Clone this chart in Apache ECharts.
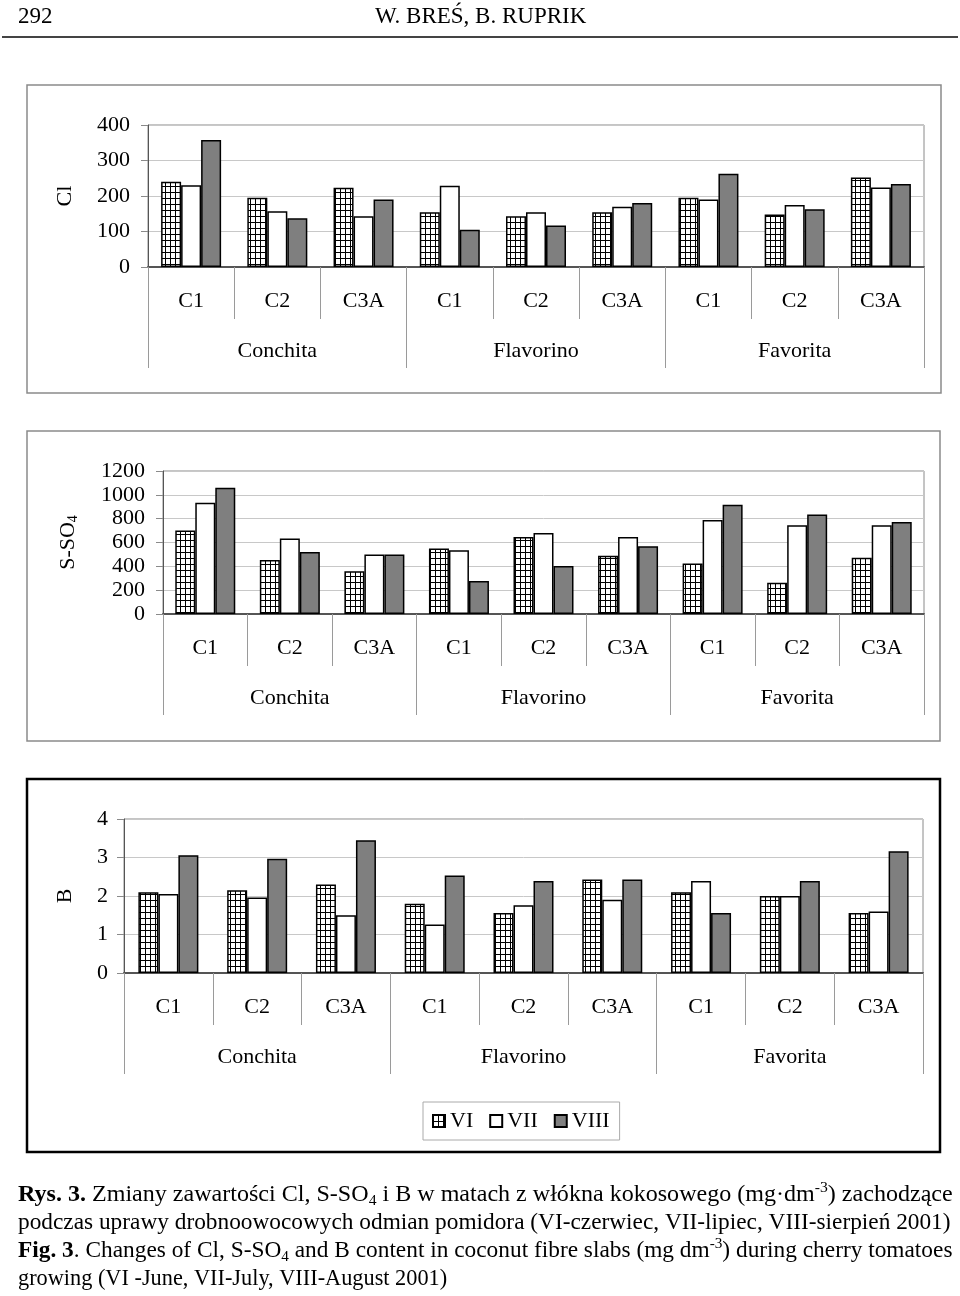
<!DOCTYPE html>
<html><head><meta charset="utf-8">
<script src="https://cdn.jsdelivr.net/npm/echarts@6/dist/echarts.min.js"></script>
<style>html,body{margin:0;padding:0;background:#fff}#c{width:960px;height:1296px}</style>
</head><body><div id="c"></div>
<script>
const categories = ['C1','C2','C3A','C1','C2','C3A','C1','C2','C3A'];
const groups = ['Conchita','Flavorino','Favorita'];
const seriesNames = ['VI','VII','VIII'];
const clTicks = [0,100,200,300,400];
const so4Ticks = [0,200,400,600,800,1000,1200];
const bTicks = [0,1,2,3,4];

const clVI   = [240,195,223,154,143,154,195,148,252];
const clVII  = [230,157,143,229,154,170,190,175,224];
const clVIII = [358,137,190,105,117,180,263,163,234];

const so4VI   = [700,454,359,550,647,488,423,263,471];
const so4VII  = [933,633,500,535,680,647,789,744,744];
const so4VIII = [1060,520,500,277,403,568,917,835,772];

const bVI   = [2.10,2.15,2.30,1.80,1.56,2.43,2.10,2.00,1.56];
const bVII  = [2.05,1.96,1.50,1.26,1.76,1.90,2.39,2.00,1.60];
const bVIII = [3.06,2.97,3.45,2.53,2.39,2.43,1.56,2.39,3.16];

const FONT = '"Liberation Serif","Times New Roman",serif';

function gridPattern(){
  const c = document.createElement('canvas');
  c.width = 5; c.height = 6;
  const g = c.getContext('2d');
  g.fillStyle = '#fff'; g.fillRect(0,0,5,6);
  g.fillStyle = '#000'; g.fillRect(0,0,5,1); g.fillRect(0,0,1,6);
  return c;
}
const pat = {image: gridPattern(), repeat: 'repeat'};
const fills = [pat, '#ffffff', '#7f7f7f'];

const panels = [
  {top:125, height:142, left:148, right:36, ticks:clTicks, name:'{n|Cl}', gap:71, lm:18, data:[clVI,clVII,clVIII]},
  {top:471, height:143, left:163, right:36, ticks:so4Ticks, name:'{n|S-SO}{s|4}', gap:83, lm:18, data:[so4VI,so4VII,so4VIII]},
  {top:819, height:154, left:124, right:37, ticks:bTicks, name:'{n|B}', gap:47, lm:16, data:[bVI,bVII,bVIII]}
];

const grid = [], xAxis = [], yAxis = [], series = [];
panels.forEach((p, i) => {
  grid.push({left:p.left, right:p.right, top:p.top, height:p.height, show:true, borderColor:'#8a8a8a', borderWidth:1});
  xAxis.push({gridIndex:i, type:'category', data:categories, position:'bottom',
    axisLine:{lineStyle:{color:'#555', width:2}},
    axisTick:{show:true, interval:0, length:52, lineStyle:{color:'#9a9a9a', width:1}},
    axisLabel:{interval:0, margin:23, fontSize:22, color:'#000', fontFamily:FONT}});
  xAxis.push({gridIndex:i, type:'category', data:groups, position:'bottom',
    axisLine:{show:false},
    axisTick:{show:true, interval:0, length:101, lineStyle:{color:'#9a9a9a', width:1}},
    axisLabel:{interval:0, margin:73, fontSize:22, color:'#000', fontFamily:FONT}});
  const t = p.ticks;
  yAxis.push({gridIndex:i, type:'value', min:t[0], max:t[t.length-1], interval:t[1]-t[0],
    name:p.name, nameLocation:'middle', nameGap:p.gap,
    nameTextStyle:{rich:{n:{fontSize:22, fontFamily:FONT, color:'#000', lineHeight:24}, s:{fontSize:14, fontFamily:FONT, color:'#000', lineHeight:14, verticalAlign:'bottom'}}},
    axisLine:{show:true, lineStyle:{color:'#555', width:1}},
    axisTick:{show:true, length:7, lineStyle:{color:'#8a8a8a'}},
    axisLabel:{margin:p.lm, fontSize:22, color:'#000', fontFamily:FONT, formatter:(v) => String(v)},
    splitLine:{show:true, lineStyle:{color:'#c8c8c8', width:1}}});
  seriesNames.forEach((nm, k) => {
    series.push({name:nm, type:'bar', xAxisIndex:i*2, yAxisIndex:i, data:p.data[k],
      barWidth:20, barGap:'0%',
      itemStyle:{color:fills[k], borderColor:'#000', borderWidth:1.5},
      emphasis:{disabled:true}, animation:false});
  });
});

const capRich = {
  b:{fontWeight:'bold', fontSize:23, fontFamily:FONT, lineHeight:28, color:'#000'},
  n:{fontSize:23, fontFamily:FONT, lineHeight:28, color:'#000'},
  sub:{fontSize:15, fontFamily:FONT, lineHeight:15, verticalAlign:'bottom', color:'#000'},
  sup:{fontSize:15, fontFamily:FONT, lineHeight:15, verticalAlign:'top', color:'#000'}
};
const capLines = [
  '{b|Rys. 3.}{n| Zmiany zawartości Cl, S-SO}{sub|4}{n| i B w matach z włókna kokosowego (mg·dm}{sup|-3}{n|) zachodzące}',
  '{n|podczas uprawy drobnoowocowych odmian pomidora (VI-czerwiec, VII-lipiec, VIII-sierpień 2001)}',
  '{b|Fig. 3}{n|. Changes of Cl, S-SO}{sub|4}{n| and B content in coconut fibre slabs (mg dm}{sup|-3}{n|) during cherry tomatoes}',
  '{n|growing (VI -June, VII-July, VIII-August 2001)}'
];
const capScale = [1.046, 1.014, 1.015, 0.97];
const graphic = [
  {type:'text', x:18, y:5, style:{text:'292', font:'23px '+FONT, fill:'#000'}},
  {type:'text', x:375, y:5, style:{text:'W. BREŚ, B. RUPRIK', font:'23px '+FONT, fill:'#000'}},
  {type:'line', shape:{x1:2, y1:37, x2:958, y2:37}, style:{stroke:'#444', lineWidth:2}},
  {type:'rect', shape:{x:27, y:85, width:914, height:308}, style:{fill:'none', stroke:'#8a8a8a', lineWidth:1.5}},
  {type:'rect', shape:{x:27, y:431, width:913, height:310}, style:{fill:'none', stroke:'#8a8a8a', lineWidth:1.5}},
  {type:'rect', shape:{x:27, y:779, width:913, height:373}, style:{fill:'none', stroke:'#000', lineWidth:2.5}}
];
capLines.forEach((t, i) => {
  graphic.push({type:'text', x:18, y:1181 + i*28, scaleX:capScale[i], style:{text:t, rich:capRich, fill:'#000'}});
});

const chart = echarts.init(document.getElementById('c'), null, {renderer:'canvas'});
chart.setOption({
  animation:false,
  grid, xAxis, yAxis, series, graphic,
  legend:{data:seriesNames, left:423, top:1102, padding:[8,10,8,9], itemGap:16, itemWidth:12, itemHeight:12,
    icon:'rect', borderColor:'#aaa', borderWidth:1, textStyle:{fontSize:22, fontFamily:FONT, color:'#000'}, selectedMode:false}
});
</script></body></html>
